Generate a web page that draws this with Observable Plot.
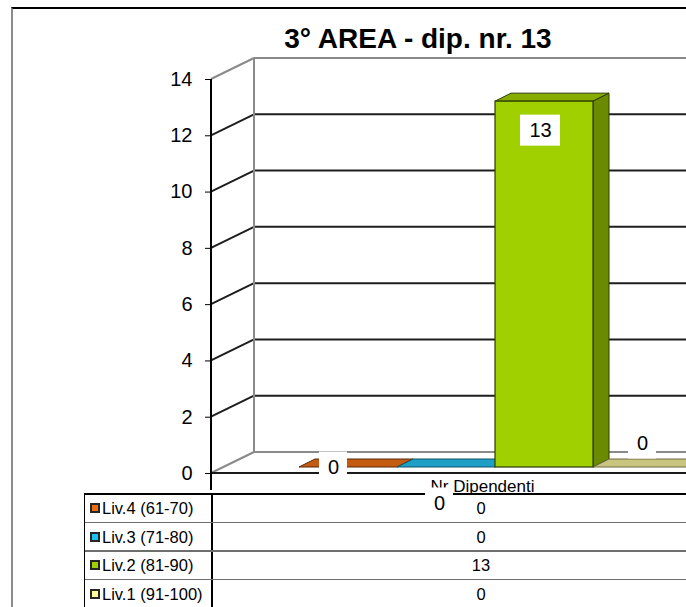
<!DOCTYPE html>
<html><head><meta charset="utf-8">
<script src="https://cdn.jsdelivr.net/npm/d3@7"></script>
<script src="https://cdn.jsdelivr.net/npm/@observablehq/plot@0.6"></script>
<style>
html,body{margin:0;padding:0;overflow:hidden;background:#fff;}
#wrap{position:relative;width:686px;height:607px;overflow:hidden;font-family:"Liberation Sans",Arial,Helvetica,sans-serif;color:#000;}
#wrap .abs{position:absolute;}
#chart{position:absolute;left:0;top:0;z-index:2;}
#chart [aria-label="y-axis"] text, #chart [aria-label="y-axis tick label"] text{font-size:20px;}
.title{left:0;top:25px;width:836px;text-align:center;font-weight:bold;font-size:28px;line-height:28px;z-index:1;}
.cat{left:382px;width:201px;top:478px;text-align:center;font-size:17px;line-height:17px;z-index:1;white-space:nowrap;}
.cell{display:flex;align-items:center;font-size:16.5px;line-height:16.5px;white-space:nowrap;z-index:1;}
.sw{display:inline-block;width:10px;height:10px;box-sizing:border-box;border:2px solid #262626;margin-left:6px;margin-right:2px;}
.ln{z-index:1;}
</style></head>
<body><div id="wrap"></div>
<script>
// ---- data ----
const title = "3° AREA - dip. nr. 13";
const category = "Nr Dipendenti";
const series = ["Liv.4 (61-70)", "Liv.3 (71-80)", "Liv.2 (81-90)", "Liv.1 (91-100)"];
const values = [0, 0, 13, 0];
const yTicks = [0, 2, 4, 6, 8, 10, 12, 14];

// ---- styles / layout ----
const frontColor = ["#f06b0f", "#1cc3f2", "#a0d000", "#ffff99"];
const topColor   = ["#c55a11", "#1d9fc6", "#86ac00", "#c9c580"];
const sideColor  = ["#9a450c", "#167f9e", "#6a8a00", "#a09d63"];
const edgeColor  = ["#5a2a06", "#0f5568", "#2d3a00", "#6e6b40"];
const WALL = {dx: 43, dy: -21};
const DEPTH = {dx: 16, dy: -8};
const BAR_DY = -6;
const BAR_RANGE = [297, 692];
const labelNudge = [{dx: -15, dy: -6}, {dx: -7, dy: 30}, {dx: -4, dy: 23}, {dx: 0, dy: -30}];

const data = series.map((s, i) => ({series: s, value: values[i], i}));
const yMin = yTicks[0], yMax = yTicks[yTicks.length - 1];

function bw(x) {
  if (x.bandwidth) return x.bandwidth();
  return x(series[1]) - x(series[0]);
}

function walls(index, scales, values_, dims) {
  const {y} = scales;
  const g = d3.create("svg:g").attr("fill", "none");
  const x0 = dims.marginLeft, right = dims.width + 30, bx = x0 + WALL.dx;
  for (const t of yTicks) {
    const edge = t === yMin || t === yMax;
    const c = edge ? "#8a8a8a" : "#1e1e1e";
    g.append("line").attr("x1", bx).attr("x2", right)
      .attr("y1", y(t) + WALL.dy).attr("y2", y(t) + WALL.dy)
      .attr("stroke", c).attr("stroke-width", 2);
    g.append("line").attr("x1", x0).attr("x2", bx)
      .attr("y1", y(t)).attr("y2", y(t) + WALL.dy)
      .attr("stroke", c).attr("stroke-width", 2);
  }
  g.append("line").attr("x1", bx).attr("x2", bx)
    .attr("y1", y(yMin) + WALL.dy).attr("y2", y(yMax) + WALL.dy)
    .attr("stroke", "#8a8a8a").attr("stroke-width", 2);
  g.append("line").attr("x1", x0).attr("x2", right)
    .attr("y1", y(yMin)).attr("y2", y(yMin))
    .attr("stroke", "#1a1a1a").attr("stroke-width", 2);
  g.append("line").attr("x1", x0).attr("x2", x0)
    .attr("y1", y(yMax)).attr("y2", y(yMin) + 17)
    .attr("stroke", "#000").attr("stroke-width", 2);
  return g.node();
}

function faces(index, scales) {
  const {x, y} = scales;
  const w = bw(x);
  const g = d3.create("svg:g");
  data.forEach(d => {
    const x0 = x(d.series), x1 = x0 + w;
    const yt = y(d.value) + BAR_DY, yb = y(0) + BAR_DY;
    g.append("polygon")
      .attr("points", [[x0, yt], [x1, yt], [x1 + DEPTH.dx, yt + DEPTH.dy], [x0 + DEPTH.dx, yt + DEPTH.dy]].join(" "))
      .attr("fill", topColor[d.i]).attr("stroke", edgeColor[d.i]).attr("stroke-width", 1);
    if (d.value > 0) {
      g.append("polygon")
        .attr("points", [[x1, yb], [x1, yt], [x1 + DEPTH.dx, yt + DEPTH.dy], [x1 + DEPTH.dx, yb + DEPTH.dy]].join(" "))
        .attr("fill", sideColor[d.i]).attr("stroke", edgeColor[d.i]).attr("stroke-width", 1);
    }
  });
  return g.node();
}

function labelBoxes(index, scales) {
  const {x, y} = scales;
  const w = bw(x);
  const g = d3.create("svg:g");
  data.forEach(d => {
    const txt = String(d.value);
    const cx = x(d.series) + w / 2 + labelNudge[d.i].dx;
    const cy = y(d.value) + labelNudge[d.i].dy;
    const bwid = 12 * txt.length + 16, bh = 31;
    g.append("rect").attr("x", cx - bwid / 2).attr("y", cy - bh / 2)
      .attr("width", bwid).attr("height", bh).attr("fill", "#fff");
  });
  return g.node();
}

const textMarks = data.map(d => Plot.text([d], {
  x: "series", y: "value", text: r => String(r.value),
  dx: labelNudge[d.i].dx, dy: labelNudge[d.i].dy,
  fontSize: 20, fill: "#000", fontFamily: "Liberation Sans, Arial, sans-serif"
}));

const chart = Plot.plot({
  width: 686, height: 607,
  marginLeft: 211, marginRight: 0, marginTop: 79, marginBottom: 134,
  style: {background: "transparent", overflow: "hidden", fontFamily: "Liberation Sans, Arial, sans-serif", fontSize: "20px", color: "#000"},
  x: {type: "band", domain: series, range: BAR_RANGE, padding: 0, axis: null},
  y: {domain: [yMin, yMax], ticks: yTicks, tickSize: 6, tickPadding: 13, tickFormat: d => String(d), label: null},
  color: {type: "identity"},
  marks: [
    walls,
    faces,
    Plot.barY(data, {x: "series", y: "value", dy: BAR_DY, fill: d => frontColor[d.i], stroke: d => edgeColor[d.i], strokeWidth: 1.2}),
    labelBoxes,
    ...textMarks
  ]
});
chart.id = "chart";

const wrap = document.getElementById("wrap");
function add(cls, css, html) {
  const el = document.createElement("div");
  el.className = "abs " + cls;
  if (css) el.style.cssText = css;
  if (html != null) el.innerHTML = html;
  wrap.appendChild(el);
  return el;
}
// frame
add("ln", "left:11px;top:7px;width:720px;height:640px;border-top:2px solid #000;border-left:2px solid #8c8c8c;");
// title & category
add("title", "", "").textContent = title;
add("cat", "", "").textContent = category;
// table
const T0 = 494, RH = 28.5;
add("ln", `left:84px;top:${T0 - 1}px;width:700px;height:2px;background:#000;`);
add("ln", `left:83.5px;top:${T0 - 1}px;width:1.5px;height:130px;background:#000;`);
add("ln", `left:211px;top:${T0 - 1}px;width:2px;height:130px;background:#000;`);
series.forEach((s, i) => {
  const top = T0 + i * RH;
  if (i > 0) add("ln", `left:85px;top:${top - 0.75}px;width:700px;height:1.5px;background:#6e6e6e;`);
  const lc = add("cell", `left:84px;top:${top}px;width:128px;height:${RH}px;`);
  const sw = document.createElement("span"); sw.className = "sw"; sw.style.background = frontColor[i];
  lc.appendChild(sw);
  const tx = document.createElement("span"); tx.textContent = s; lc.appendChild(tx);
  const vc = add("cell", `left:212px;top:${top}px;width:538px;height:${RH}px;justify-content:center;`);
  vc.textContent = String(values[i]);
});
wrap.appendChild(chart);
</script>
</body></html>
